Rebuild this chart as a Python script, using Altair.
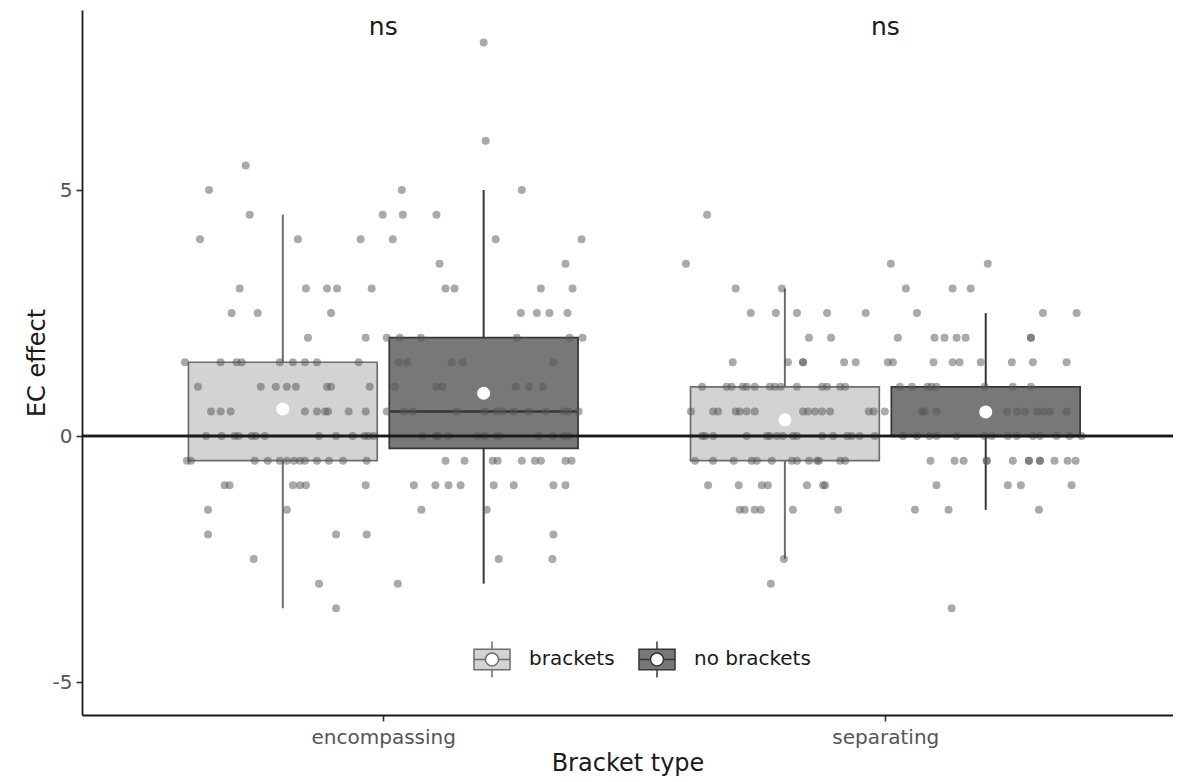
import altair as alt
import pandas as pd

# ---- data ----
bracket_types = ["encompassing", "separating"]
conditions = ["brackets", "no brackets"]

# rows of (EC effect value, jitter offsets within the dodged group)
enc_brackets_rows = [
    (5.5, [-0.074]), (5.0, [-0.147]), (4.5, [-0.066]),
    (4.0, [-0.165, 0.030, 0.155]),
    (3.0, [-0.086, 0.046, 0.088, 0.108, 0.177]),
    (2.5, [-0.102, -0.050, 0.096]),
    (2.0, [0.050, 0.165]),
    (1.5, [-0.195, -0.124, -0.092, -0.082, -0.006, 0.020, 0.044, 0.068, 0.151]),
    (1.0, [-0.169, -0.044, -0.014, 0.008, 0.026, 0.088, 0.096, 0.173]),
    (0.5, [-0.143, -0.124, -0.104, 0.044, 0.068, 0.084, 0.090, 0.131, 0.165]),
    (0.0, [-0.153, -0.122, -0.096, -0.088, -0.062, -0.054, -0.036, 0.072, 0.106, 0.139, 0.163, 0.171, 0.181]),
    (-0.5, [-0.191, -0.183, -0.056, -0.030, -0.006, 0.008, 0.022, 0.034, 0.044, 0.068, 0.092, 0.120, 0.167]),
    (-1.0, [-0.116, -0.106, 0.020, 0.034, 0.046, 0.165]),
    (-1.5, [-0.149, 0.008]),
    (-2.0, [-0.149, 0.106, 0.167]),
    (-2.5, [-0.058]), (-3.0, [0.072]), (-3.5, [0.106]),
]
enc_nobrackets_rows = [
    (8.0, [0.000]), (6.0, [0.004]),
    (5.0, [-0.163, 0.076]),
    (4.5, [-0.201, -0.161, -0.094]),
    (4.0, [-0.181, 0.024, 0.195]),
    (3.5, [-0.088, 0.163]),
    (3.0, [-0.076, -0.058, 0.114, 0.177]),
    (2.5, [0.074, 0.106, 0.131, 0.167]),
    (2.0, [-0.193, -0.167, -0.125, 0.066, 0.171, 0.197]),
    (1.5, [-0.169, -0.153, -0.064, -0.042, 0.139]),
    (1.0, [-0.177, -0.094, -0.082, 0.064, 0.090, 0.118]),
    (0.5, [-0.193, -0.159, -0.141, -0.054, 0.002, 0.026, 0.038, 0.060, 0.090, 0.124, 0.159, 0.169, 0.189]),
    (0.0, [-0.122, -0.094, -0.090, -0.070, -0.012, 0.002, 0.026, 0.032, 0.110, 0.137, 0.159, 0.169]),
    (-0.5, [-0.076, -0.038, 0.018, 0.028, 0.076, 0.102, 0.114, 0.163, 0.175]),
    (-1.0, [-0.139, -0.096, -0.070, -0.046, 0.020, 0.060, 0.139, 0.163]),
    (-1.5, [-0.124, 0.006]),
    (-2.0, [0.139]),
    (-2.5, [0.030, 0.137]),
    (-3.0, [-0.171]),
]
sep_brackets_rows = [
    (4.5, [-0.155]), (3.5, [-0.197]),
    (3.0, [-0.098, -0.006]),
    (2.5, [-0.068, -0.018, 0.024, 0.084, 0.161]),
    (2.0, [0.048, 0.092]),
    (1.5, [-0.104, 0.006, 0.036, 0.036, 0.118, 0.141]),
    (1.0, [-0.165, -0.116, -0.106, -0.084, -0.076, -0.060, -0.030, -0.020, -0.008, 0.024, 0.074, 0.084, 0.110, 0.120]),
    (0.5, [-0.187, -0.143, -0.133, -0.098, -0.090, -0.076, -0.060, 0.036, 0.046, 0.060, 0.074, 0.090, 0.167, 0.177]),
    (0.0, [-0.165, -0.159, -0.143, -0.076, -0.036, -0.030, -0.016, -0.004, 0.016, 0.024, 0.074, 0.096, 0.124, 0.133, 0.149, 0.179]),
    (-0.5, [-0.179, -0.143, -0.102, -0.066, -0.056, -0.026, 0.014, 0.024, 0.048, 0.064, 0.068, 0.110, 0.120]),
    (-1.0, [-0.153, -0.092, -0.046, -0.034, 0.044, 0.076, 0.080]),
    (-1.5, [-0.090, -0.080, -0.060, -0.048, 0.016, 0.106]),
    (-2.5, [-0.002]), (-3.0, [-0.028]),
]
sep_nobrackets_rows = [
    (3.5, [-0.189, 0.004]),
    (3.0, [-0.159, -0.066, -0.030]),
    (2.5, [-0.137, 0.114, 0.181]),
    (2.0, [-0.175, -0.102, -0.082, -0.058, -0.040, 0.090, 0.090]),
    (1.5, [-0.195, -0.185, -0.104, -0.066, -0.052, -0.010, 0.052, 0.094, 0.161]),
    (1.0, [-0.171, -0.147, -0.116, -0.108, -0.098, -0.002, 0.054, 0.090]),
    (0.5, [-0.201, -0.127, -0.122, -0.098, 0.042, 0.062, 0.078, 0.102, 0.114, 0.127, 0.161]),
    (0.0, [-0.165, -0.137, -0.112, -0.098, -0.058, -0.002, 0.012, 0.044, 0.062, 0.094, 0.108, 0.141, 0.167, 0.191]),
    (-0.5, [-0.110, -0.062, -0.044, 0.002, 0.002, 0.054, 0.086, 0.086, 0.108, 0.108, 0.137, 0.163, 0.179]),
    (-1.0, [-0.098, 0.044, 0.070, 0.171]),
    (-1.5, [-0.141, -0.074, 0.106]),
    (-3.5, [-0.068]),
]

# box summaries (order: enc/brackets, enc/no brackets, sep/brackets, sep/no brackets)
box_type = ["encompassing", "encompassing", "separating", "separating"]
box_cond = ["brackets", "no brackets", "brackets", "no brackets"]
box_q1 = [-0.5, -0.25, -0.5, 0.0]
box_median = [0.0, 0.5, 0.0, 0.0]
box_q3 = [1.5, 2.0, 1.0, 1.0]
box_lower = [-3.5, -3.0, -2.5, -1.5]
box_upper = [4.5, 5.0, 3.0, 2.5]
box_mean = [0.55, 0.87, 0.33, 0.49]

sig_labels = ["ns", "ns"]

# ---- build tables ----
type_pos = {t: i + 1 for i, t in enumerate(bracket_types)}
dodge = {"brackets": -0.2, "no brackets": 0.2}
half_box = 0.188
fills = {"brackets": "#d3d3d3", "no brackets": "#787878"}
strokes = {"brackets": "#6e6e6e", "no brackets": "#363636"}

recs = []
for t, c, rows in [
    ("encompassing", "brackets", enc_brackets_rows),
    ("encompassing", "no brackets", enc_nobrackets_rows),
    ("separating", "brackets", sep_brackets_rows),
    ("separating", "no brackets", sep_nobrackets_rows),
]:
    for yv, js in rows:
        for j in js:
            recs.append({"type": t, "cond": c, "effect": yv,
                         "x": type_pos[t] + dodge[c] + j})
points = pd.DataFrame(recs)

boxes = pd.DataFrame({
    "type": box_type, "cond": box_cond, "q1": box_q1, "median": box_median,
    "q3": box_q3, "lower": box_lower, "upper": box_upper, "mean": box_mean,
})
boxes["xc"] = [type_pos[t] + dodge[c] for t, c in zip(box_type, box_cond)]
boxes["xl"] = boxes["xc"] - half_box
boxes["xr"] = boxes["xc"] + half_box
boxes["strokecol"] = [strokes[c] for c in box_cond]

sig = pd.DataFrame({"x": [type_pos[t] for t in bracket_types], "label": sig_labels})

xscale = alt.Scale(domain=[0.4, 2.573], nice=False, zero=False)
yscale = alt.Scale(domain=[-5.67, 8.66], nice=False, zero=False)

xaxis = alt.Axis(values=[1, 2], title="Bracket type", labelPadding=6, titlePadding=4,
                 labelExpr="datum.value == 1 ? 'encompassing' : 'separating'")
yaxis = alt.Axis(values=[-5, 0, 5], title="EC effect", titlePadding=3,
                 labelExpr="datum.value + ''")

legend_symbol = ("M-1,-0.57H1V0.57H-1Z "
                 "M0.36,0A0.36,0.36 0 1 0 -0.36,0A0.36,0.36 0 1 0 0.36,0Z "
                 "M0,-0.57V-1M0,0.57V1M-1,0H-0.36M0.36,0H1")
legend_def = alt.Legend(
    title=None, orient="none", legendX=391, legendY=630,
    direction="horizontal", columns=2, padding=0,
    symbolType=legend_symbol, symbolSize=1300, symbolStrokeWidth=1.5, symbolOpacity=1,
    labelFontSize=20, labelColor="#1a1a1a", labelFont="DejaVu Sans",
    labelOffset=18, columnPadding=20,
)

base_box = alt.Chart(boxes)

box_layer = base_box.mark_bar(strokeWidth=1.7).encode(
    x=alt.X("xl:Q", scale=xscale, axis=xaxis),
    x2="xr:Q",
    y=alt.Y("q1:Q", scale=yscale, axis=yaxis),
    y2="q3:Q",
    fill=alt.Fill("cond:N", scale=alt.Scale(domain=conditions, range=[fills[c] for c in conditions]),
                  legend=legend_def),
    stroke=alt.Stroke("cond:N", scale=alt.Scale(domain=conditions, range=[strokes[c] for c in conditions]),
                      legend=legend_def),
)

median_layer = base_box.mark_rule(strokeWidth=2.4).encode(
    x="xl:Q", x2="xr:Q", y="median:Q",
    color=alt.Color("strokecol:N", scale=None),
)
whisker_up = base_box.mark_rule(strokeWidth=2).encode(
    x="xc:Q", y="q3:Q", y2="upper:Q",
    color=alt.Color("strokecol:N", scale=None),
)
whisker_down = base_box.mark_rule(strokeWidth=2).encode(
    x="xc:Q", y="lower:Q", y2="q1:Q",
    color=alt.Color("strokecol:N", scale=None),
)

point_layer = alt.Chart(points).mark_circle(size=64, opacity=0.5, color="#555555").encode(
    x="x:Q", y="effect:Q",
)

mean_layer = base_box.mark_circle(size=170, opacity=1, color="white").encode(
    x="xc:Q", y="mean:Q",
)

zero_line = alt.Chart(sig).mark_rule(color="#1a1a1a", strokeWidth=2.4).encode(
    y=alt.datum(0),
)

sig_layer = alt.Chart(sig).mark_text(fontSize=25, font="DejaVu Sans", color="#1a1a1a",
                                      baseline="middle").encode(
    x="x:Q", y=alt.value(17), text="label:N",
)

chart = alt.layer(
    box_layer, median_layer, whisker_up, whisker_down, point_layer,
    mean_layer, zero_line, sig_layer,
).properties(
    width=1091, height=705,
    padding={"left": 74, "top": 2, "right": 0, "bottom": 66},
    autosize=alt.AutoSizeParams(type="none"),
).configure_view(stroke=None).configure_axis(
    grid=False, domainColor="#1a1a1a", domainWidth=1.8, tickColor="#333333",
    tickSize=6, tickWidth=1.6, labelFont="DejaVu Sans", labelFontSize=20,
    labelColor="#555555", titleFont="DejaVu Sans", titleFontSize=24,
    titleFontWeight="normal", titleColor="#1a1a1a", labelPadding=4,
)

chart.save("out.html", embed_options={"renderer": "svg", "actions": False})
